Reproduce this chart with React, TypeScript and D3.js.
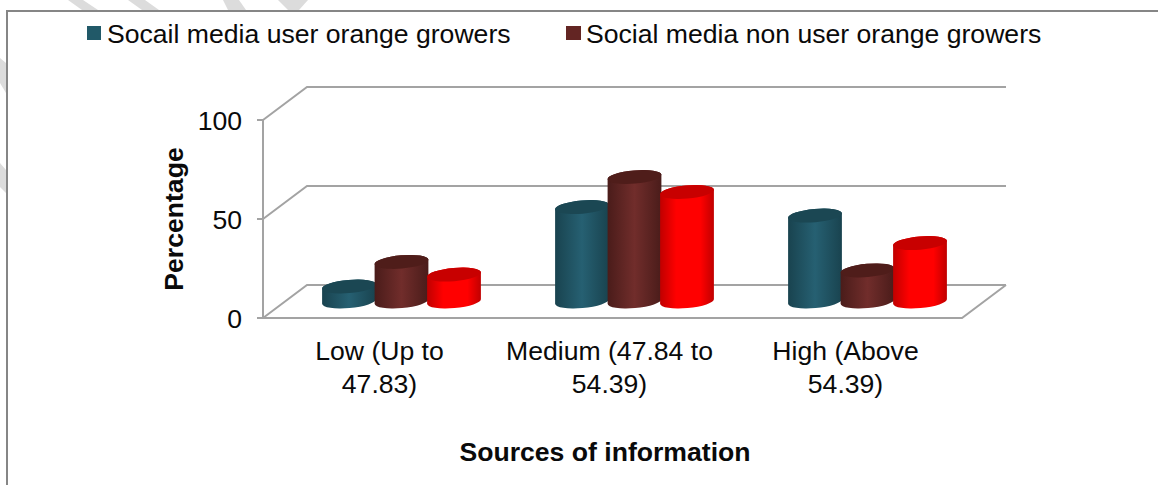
import React from "react";
import * as d3 from "d3";

const categories = ["Low (Up to|47.83)", "Medium (47.84 to|54.39)", "High (Above|54.39)"];
const seriesNames = ["Socail media user orange growers", "Social media non user orange growers", "Third series"];
const userValues = [7.6, 47.7, 43.4];
const nonUserValues = [20, 62.9, 15.7];
const thirdValues = [13.6, 55.3, 29.5];
const yTicks = [0, 50, 100];

const seriesValues = [userValues, nonUserValues, thirdValues];
const palette = [
  { edge: "#19434f", mid: "#266072", top: "#1b4753", legend: "#215968" },
  { edge: "#4a1c1a", mid: "#712d2b", top: "#4f1d1a", legend: "#632523" },
  { edge: "#c00000", mid: "#ff0000", top: "#c80000", legend: "#ff0000" },
];

const FONT = "'Liberation Sans', Arial, sans-serif";
const GRID = "#a3a3a3";
const DX = 44;
const DY = -33;
const labelNudge = [0, -3, 0];

const x0 = d3.scaleBand<number>().domain(categories.map((_, i) => i)).range([263, 962]);
const y = d3.scaleLinear().domain([0, 100]).range([318, 120]);
const innerWidth = 157.5;
const inner = d3.scaleBand<number>().domain([0, 1, 2]).range([0, innerWidth]);

const RX = 27;
const RY = 6.6;
const TILT = -5;

function cylinder(cx: number, top: number, base: number) {
  const r = (TILT * Math.PI) / 180;
  const ex = RX * Math.cos(r);
  const ey = RX * Math.sin(r);
  const arc = `A${RX},${RY} ${TILT} 0 0`;
  return `M${cx - ex},${top - ey} L${cx - ex},${base - ey} ${arc} ${cx + ex},${base + ey} L${cx + ex},${top + ey} ${arc} ${cx - ex},${top - ey} Z`;
}

function ellipse(cx: number, cy: number) {
  return `rotate(${TILT} ${cx} ${cy})`;
}

const stripes = [
  "68,0 83,0 98,10 82,10",
  "128,0 145,0 159,10 142,10",
  "223,0 239,0 246,10 228,10",
  "278,0 308,0 299,10 288,10",
  "0,58 6,63 6,93 0,83",
  "0,163 6,170 6,193 0,187",
];

export default function App() {
  return (
    <svg width={1158} height={485} style={{ position: "absolute", left: 0, top: 0, display: "block", background: "#fff" }} fontFamily={FONT}>
      <defs>
        {palette.map((p, i) => (
          <linearGradient id={`cyl${i}`} key={i} x1="0" x2="1" y1="0" y2="0">
            <stop offset="0" stopColor={p.edge} />
            <stop offset={i === 2 ? "0.3" : "0.5"} stopColor={p.mid} />
            {i === 2 && <stop offset="0.75" stopColor={p.mid} />}
            <stop offset="1" stopColor={p.edge} />
          </linearGradient>
        ))}
      </defs>

      {stripes.map((s, i) => (
        <polygon key={i} points={s} fill="#dcdcdc" />
      ))}

      <path d="M7,485 L7,11 L1158,11" fill="none" stroke="#868686" strokeWidth={2} />

      <g fontSize={26.6} fill="#0a0a0a">
        <rect x={87} y={26} width={14} height={14} fill={palette[0].legend} />
        <text x={107} y={43}>{seriesNames[0]}</text>
        <rect x={566} y={26} width={15} height={14} fill={palette[1].legend} />
        <text x={586} y={43}>{seriesNames[1]}</text>
      </g>

      <g fill="none" stroke={GRID} strokeWidth={2}>
        {yTicks.map((t) => (
          <g key={t}>
            <line x1={257} x2={263} y1={y(t)} y2={y(t)} />
            <polyline points={`263,${y(t)} ${263 + DX},${y(t) + DY} ${962 + DX},${y(t) + DY}`} />
          </g>
        ))}
        <line x1={263} x2={263} y1={y(100)} y2={y(0)} />
        <polyline points={`263,${y(0)} 962,${y(0)} ${962 + DX},${y(0) + DY}`} />
      </g>

      <g fontSize={26.6} fill="#0a0a0a" textAnchor="end">
        {yTicks.map((t) => (
          <text key={t} x={242} y={y(t) + 9.5}>{t}</text>
        ))}
      </g>

      {categories.map((_, c) =>
        seriesValues.map((vals, s) => {
          const left = (x0(c) as number) + x0.bandwidth() / 2 + DX / 2 - innerWidth / 2;
          const cx = left + (inner(s) as number) + inner.bandwidth() / 2;
          const base = y(0) + DY / 2;
          const top = base - (y(0) - y(vals[c]));
          return (
            <g key={`${c}-${s}`}>
              <path d={cylinder(cx, top, base)} fill={`url(#cyl${s})`} />
              <ellipse cx={cx} cy={top} rx={RX} ry={RY} transform={ellipse(cx, top)} fill={palette[s].top} />
            </g>
          );
        })
      )}

      <g fontSize={26.6} fill="#0a0a0a" textAnchor="middle">
        {categories.map((label, c) => {
          const cx = (x0(c) as number) + x0.bandwidth() / 2 + labelNudge[c];
          return (
            <text key={c} x={cx}>
              {label.split("|").map((l, i) => (
                <tspan key={i} x={cx} y={360 + i * 33}>{l}</tspan>
              ))}
            </text>
          );
        })}
      </g>

      <text x={605} y={461} fontSize={26.6} fontWeight="bold" fill="#0a0a0a" textAnchor="middle">Sources of information</text>
      <text transform="translate(183,219) rotate(-90)" fontSize={26.6} fontWeight="bold" fill="#0a0a0a" textAnchor="middle">Percentage</text>
    </svg>
  );
}
